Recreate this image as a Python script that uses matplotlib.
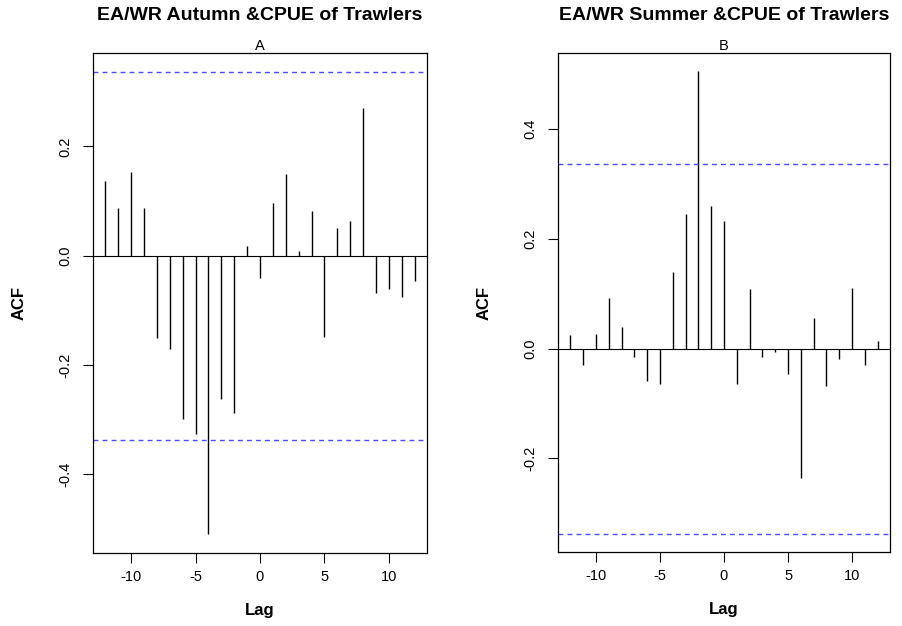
import numpy as np
import matplotlib.pyplot as plt

plt.rcParams['font.family'] = ['Liberation Sans', 'DejaVu Sans']

# -----------------------------
# Cross-correlation values
# -----------------------------
lags = np.arange(-12, 13)

acf_autumn = [0.137, 0.088, 0.153, 0.087, -0.151, -0.171, -0.298, -0.326,
              -0.510, -0.263, -0.287, 0.018, -0.040, 0.096, 0.150, 0.009,
              0.082, -0.149, 0.050, 0.063, 0.270, -0.068, -0.060, -0.075,
              -0.046]

acf_summer = [0.025, -0.029, 0.026, 0.093, 0.039, -0.016, -0.059, -0.064,
              0.140, 0.246, 0.505, 0.260, 0.233, -0.065, 0.108, -0.016,
              -0.007, -0.046, -0.235, 0.056, -0.068, -0.019, 0.110, -0.029,
              0.013]

conf_limit = 0.337   # 95% band, same for both panels

titles = ["EA/WR Autumn &CPUE of Trawlers", "EA/WR Summer &CPUE of Trawlers"]
subtitles = ["A", "B"]
yticks = [[-0.4, -0.2, 0.0, 0.2], [-0.2, 0.0, 0.2, 0.4]]
xticks = [-10, -5, 0, 5, 10]

# -----------------------------
# Figure
# -----------------------------
fig = plt.figure(figsize=(9.02, 6.26), dpi=100)
boxes = [[93 / 902, 73 / 626, 334 / 902, 500 / 626],
         [558 / 902, 74 / 626, 332 / 902, 499 / 626]]

for i, vals in enumerate([acf_autumn, acf_summer]):
    ax = fig.add_axes(boxes[i])
    vals = np.array(vals)

    ax.vlines(lags, 0, vals, color="black", lw=1.0)
    ax.axhline(0, color="black", lw=0.8)
    for c in (conf_limit, -conf_limit):
        ax.axhline(c, color="#4a4aff", lw=1.0, linestyle=(0, (3.5, 3)))

    # R style 4% padding on the data range
    lo = min(vals.min(), -conf_limit)
    hi = max(vals.max(), conf_limit)
    pad = 0.04 * (hi - lo)
    ax.set_ylim(lo - pad, hi + pad)
    ax.set_xlim(-12.96, 12.96)

    ax.set_xticks(xticks)
    ax.set_xticklabels([str(x) for x in xticks])
    ax.set_yticks(yticks[i])
    ax.set_yticklabels([f"{y:.1f}" for y in yticks[i]], rotation=90, va="center")
    ax.tick_params(axis="both", direction="out", length=7, width=0.8,
                   labelsize=10.5, colors="black")
    ax.tick_params(axis="x", pad=5)
    ax.tick_params(axis="y", pad=8)
    for s in ax.spines.values():
        s.set_linewidth(0.9)
        s.set_color("black")

    ax.set_xlabel("Lag", fontsize=12, fontweight="bold", va="center")
    ax.xaxis.set_label_coords(0.5, -0.116)
    ax.set_ylabel("ACF", fontsize=12, fontweight="bold", va="center")
    ax.yaxis.set_label_coords(-0.222, 0.5)

    ax.set_title(subtitles[i], fontsize=10.5, pad=2)
    cx = boxes[i][0] + boxes[i][2] / 2
    fig.text(cx, 1 - 16 / 626, titles[i], ha="center", va="center",
             fontsize=14, fontweight="bold")

plt.savefig("out.png", dpi=100)
